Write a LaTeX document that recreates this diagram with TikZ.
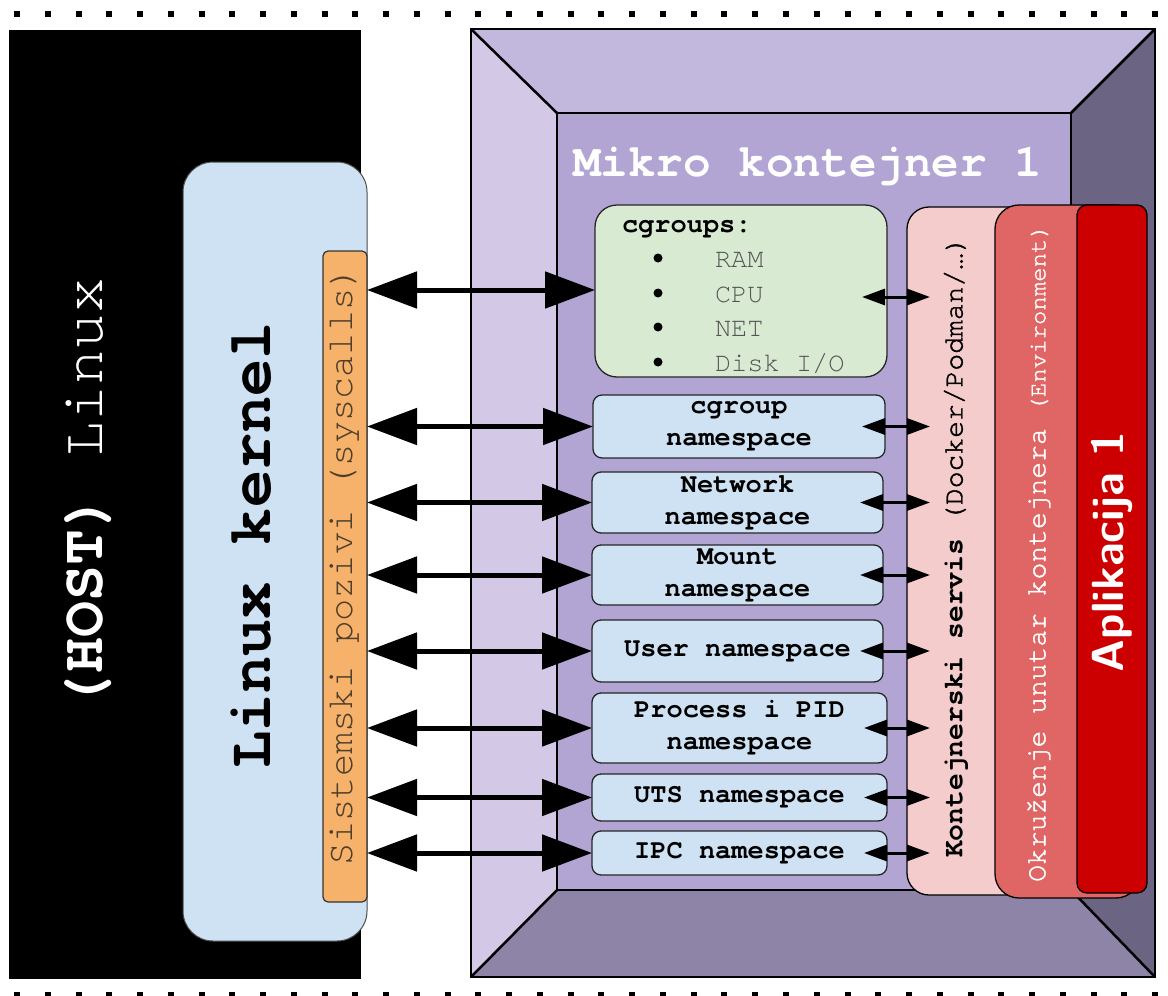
\documentclass[tikz,border=0pt]{standalone}
\usepackage{fontspec}
\setmainfont{Liberation Sans}
\setmonofont{texgyrecursor}[Extension=.otf, UprightFont=*-regular, BoldFont=*-bold]
\newfontfamily\ttmed{texgyrecursor}[Extension=.otf, UprightFont=*-regular, FakeBold=1.5]
\usetikzlibrary{arrows.meta,calc}
\definecolor{kblue}{HTML}{CFE2F3}
\definecolor{sysor}{HTML}{F6B26B}
\definecolor{cggreen}{HTML}{D9EAD3}
\definecolor{pinkb}{HTML}{F4CCCC}
\definecolor{envred}{HTML}{E06666}
\definecolor{appred}{HTML}{CC0000}
\definecolor{ftop}{HTML}{C2B8DD}
\definecolor{fleft}{HTML}{D3C9E7}
\definecolor{ffront}{HTML}{B2A5D4}
\definecolor{fright}{HTML}{6B6483}
\definecolor{fbot}{HTML}{8E84A8}
\definecolor{systext}{HTML}{4E3E2A}
\definecolor{itemgray}{HTML}{555555}
\begin{document}
\begin{tikzpicture}[x=1pt,y=-1pt,
  every node/.style={inner sep=0pt, outer sep=0pt},
  face/.style={draw=black, line width=2.5pt, line join=miter},
  nsbox/.style={draw=black!85, line width=1.3pt, fill=kblue, rounded corners=9pt, anchor=north west, align=center, font=\fontsize{27}{32}\selectfont\ttfamily\bfseries},
  bigarrow/.style={line width=5pt, {Triangle[length=50pt,width=36pt]}-{Triangle[length=50pt,width=36pt]}},
  smallarrow/.style={line width=3pt, {Triangle[length=23pt,width=16pt]}-{Triangle[length=23pt,width=16pt]}},
  dots/.style={line width=6pt, dash pattern=on 6pt off 24.76pt},
  item/.style={anchor=base west, text=itemgray, font=\fontsize{27}{32}\selectfont\ttfamily},
]
\useasboundingbox (0,0) rectangle (1168,996);
% dotted borders
\draw[dots] (14,14) -- (1162,14);
\draw[dots] (14,995) -- (1162,995);
% host
\node[fill=black, anchor=north west, minimum width=352pt, minimum height=949pt] (host) at (9,30) {};
\node[text=white, font=\fontsize{60}{60}\selectfont\ttfamily] (hosttext) at (88,493) {\rotatebox{90}{\bfseries(HOST)\mdseries{} Linux}};
% kernel
\node[fill=kblue, draw=black!70, line width=1pt, rounded corners=30pt, anchor=north west, minimum width=184pt, minimum height=779pt] (kernel) at (183,162) {};
\node[font=\fontsize{62}{62}\selectfont\ttfamily\bfseries] (kerneltext) at (251,545) {\rotatebox{90}{Linux kernel}};
% syscalls
\node[fill=sysor, draw=black!80, line width=1.2pt, rounded corners=5pt, anchor=north west, minimum width=44pt, minimum height=651pt] (sys) at (323,251) {};
\node[text=systext, font=\fontsize{37}{37}\selectfont\ttfamily] (systext) at (345,566) {\rotatebox{90}{Sistemski pozivi (syscalls)}};
% container frame
\coordinate (otl) at (471,29); \coordinate (otr) at (1155,29);
\coordinate (obr) at (1155,977); \coordinate (obl) at (471,977);
\coordinate (itl) at (557,113); \coordinate (itr) at (1071,113);
\coordinate (ibr) at (1071,890); \coordinate (ibl) at (557,890);
\fill[ftop] (otl) -- (otr) -- (itr) -- (itl) -- cycle;
\fill[fleft] (otl) -- (itl) -- (ibl) -- (obl) -- cycle;
\fill[fright] (otr) -- (obr) -- (ibr) -- (itr) -- cycle;
\fill[fbot] (obl) -- (ibl) -- (ibr) -- (obr) -- cycle;
\node[fill=ffront, draw=black, line width=2.5pt, anchor=north west, minimum width=514pt, minimum height=777pt] (front) at (itl) {};
\draw[face] (otl) rectangle (obr);
\draw[face] (otl) -- (itl) (otr) -- (itr) (obl) -- (ibl) (obr) -- (ibr);
\node[anchor=base west, text=white, font=\fontsize{46}{46}\selectfont\ttfamily\bfseries] (title) at (573,176) {Mikro kontejner 1};
% cgroups
\node[fill=cggreen, draw=black!85, line width=1.3pt, rounded corners=22pt, anchor=north west, minimum width=292pt, minimum height=172pt] (cg) at (595,205) {};
\node[anchor=base west, font=\fontsize{27}{32}\selectfont\ttfamily\bfseries] (cgtitle) at (622,232) {cgroups:};
\foreach \y/\t/\n in {258/RAM/ram, 293/CPU/cpu, 327/NET/net, 362/Disk I\slash O/disk} {
  \fill (658,\y) circle (4.5pt);
  \node[item] (\n) at (715,\y+9) {\t};
}
% namespaces
\node[nsbox, minimum width=292pt, minimum height=63pt] (ns1) at (593,395) {cgroup\\namespace};
\node[nsbox, minimum width=291pt, minimum height=61pt] (ns2) at (592,472) {Network\\namespace};
\node[nsbox, minimum width=291pt, minimum height=60pt] (ns3) at (592,545) {Mount\\namespace};
\node[nsbox, minimum width=291pt, minimum height=62pt] (ns4) at (592,620) {User namespace};
\node[nsbox, minimum width=295pt, minimum height=70pt] (ns5) at (592,693) {Process i PID\\namespace};
\node[nsbox, minimum width=295pt, minimum height=47pt] (ns6) at (592,774) {UTS namespace};
\node[nsbox, minimum width=295pt, minimum height=44pt] (ns7) at (592,831) {IPC namespace};
% right stack
\node[fill=pinkb, draw=black, line width=1.3pt, rounded corners=22pt, anchor=north west, minimum width=135pt, minimum height=688pt] (pink) at (907,207) {};
\node[fill=envred, draw=black, line width=1.3pt, rounded corners=24pt, anchor=north west, minimum width=145pt, minimum height=693pt] (env) at (995,205) {};
\node[fill=appred, draw=black, line width=1.3pt, rounded corners=10pt, anchor=north west, minimum width=70pt, minimum height=688pt] (app) at (1077,205) {};
\node[font=\fontsize{28}{28}\selectfont\ttfamily] (pinktext) at (956,547) {\rotatebox{90}{\bfseries Kontejnerski servis \ttmed(Docker/Podman/…)}};
\node[text=white, font=\fontsize{28}{28}\selectfont\ttmed] (envtext) at (1039,553) {\rotatebox{90}{Okruženje unutar kontejnera {\fontsize{24}{24}\selectfont(Environment)}}};
\node[text=white, font=\fontsize{45}{45}\selectfont\sffamily\bfseries] (apptext) at (1112,552) {\rotatebox{90}{Aplikacija 1}};
% big arrows
\draw[bigarrow] (sys.east |- 0,290) -- (cg.west |- 0,290);
\foreach \n in {ns1,ns2,ns3,ns4,ns5,ns6,ns7} {
  \draw[bigarrow] (sys.east |- \n.west) -- (\n.west);
}
% small arrows
\draw[smallarrow] ($(cg.east)+(-25,6)$) -- ($(pink.west |- cg.east)+(23,6)$);
\foreach \n in {ns1,ns2,ns3,ns4,ns5,ns6,ns7} {
  \draw[smallarrow] ($(\n.east)+(-23,0)$) -- ($(pink.west |- \n.east)+(23,0)$);
}
\end{tikzpicture}
\end{document}
